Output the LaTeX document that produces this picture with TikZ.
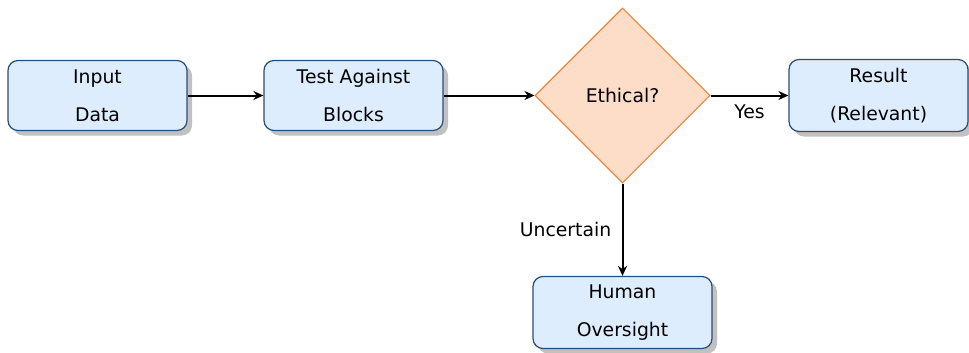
\documentclass[tikz,border=0pt]{standalone}
\usepackage{fontspec}
\setmainfont{DejaVu Sans}
\usetikzlibrary{shapes.geometric,shadows,arrows.meta}
\definecolor{boxfill}{HTML}{DDEDFD}
\definecolor{boxdraw}{HTML}{2A4D7A}
\definecolor{dfill}{HTML}{FDDDC8}
\definecolor{ddraw}{HTML}{F4843A}
\begin{document}
\begin{tikzpicture}[x=1pt,y=-1pt,
  procbox/.style={rectangle, rounded corners=10pt, draw=boxdraw, fill=boxfill, line width=1.2pt,
    minimum width=179pt, minimum height=70pt, align=center, inner sep=0pt,
    font={\fontsize{18.8}{38}\selectfont},
    drop shadow={shadow xshift=5pt, shadow yshift=-5pt, fill=black!35, opacity=0.7}},
  decision/.style={diamond, draw=ddraw, fill=dfill, line width=1.1pt, minimum width=175pt,
    minimum height=175pt, inner sep=0pt, aspect=1, font={\fontsize{18.8}{22}\selectfont}},
  conn/.style={draw=black, line width=2pt, -{Stealth[length=10pt,width=9pt]}},
  lbl/.style={font={\fontsize{18.8}{22}\selectfont}}]
\useasboundingbox (0,0) rectangle (969,353);
\node[procbox] (input) at (97.5,95.5) {Input\\Data};
\node[procbox] (test) at (353.5,95.5) {Test Against\\Blocks};
\node[decision] (eth) at (622.5,95.5) {Ethical?};
\node[procbox, minimum height=72pt] (result) at (878.5,95.5) {Result\\(Relevant)};
\node[procbox, minimum height=72pt] (human) at (622.5,312.5) {Human\\Oversight};
\draw[conn] (input.east) -- (test.west);
\draw[conn] (test.east) -- (eth.west);
\draw[conn] (eth.east) -- node[lbl, below, yshift=-5pt] (yes) {Yes} (result.west);
\draw[conn] (eth.south) -- node[lbl, left, xshift=-7pt, pos=0.5] (unc) {Uncertain} (human.north);
\end{tikzpicture}
\end{document}
